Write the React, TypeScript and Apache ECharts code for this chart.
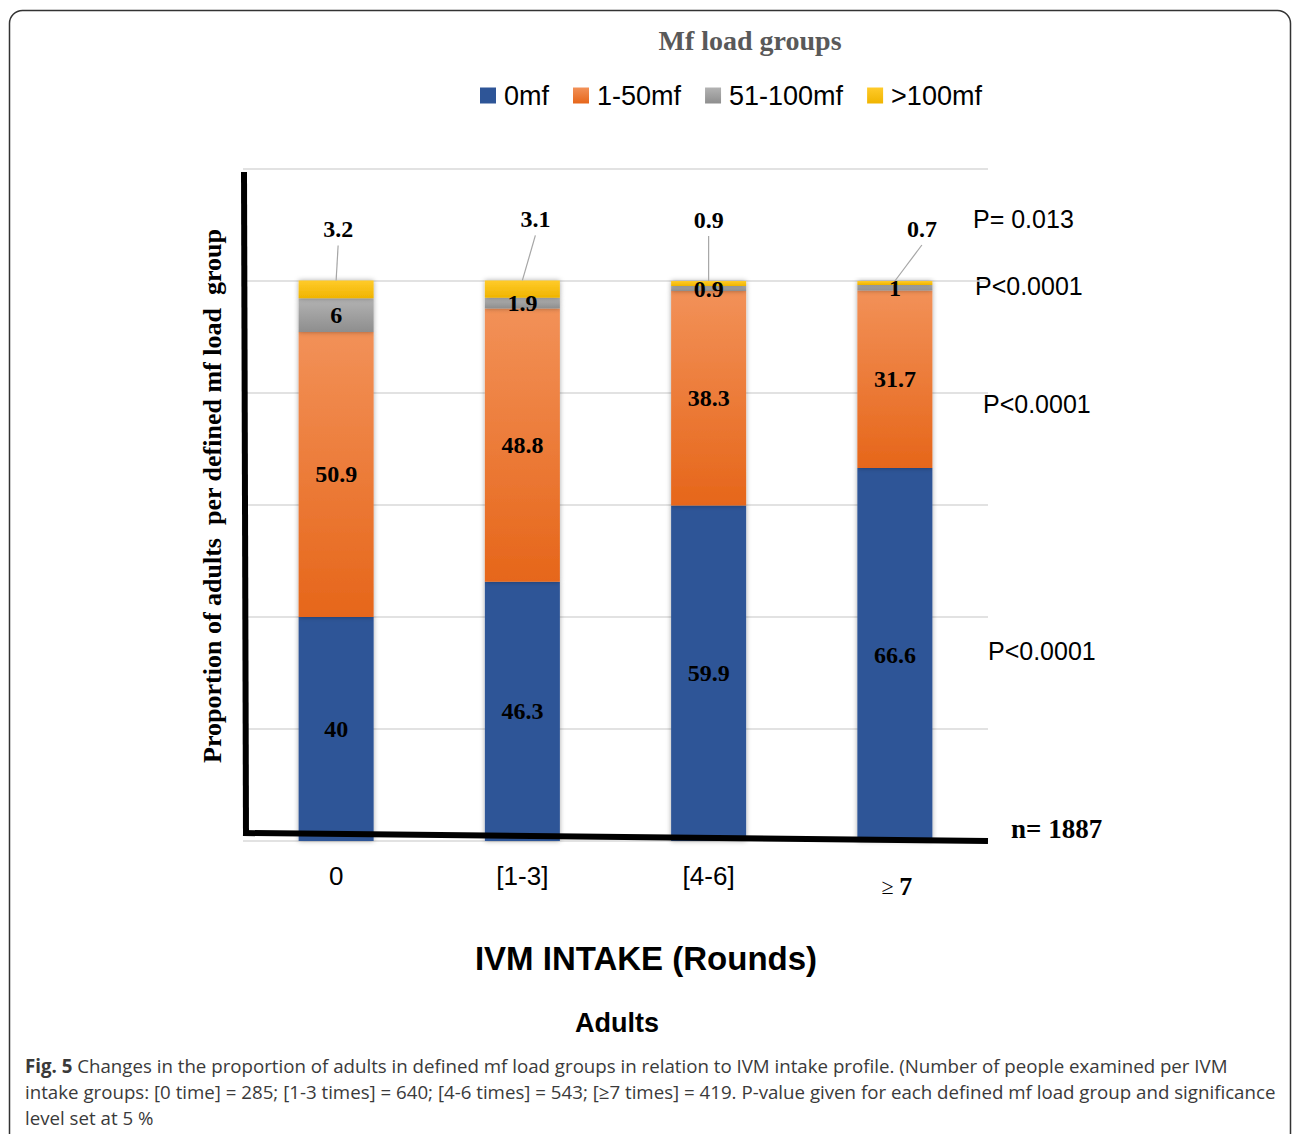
import React, { useEffect, useRef } from 'react';
import * as echarts from 'echarts';

// ---------- data ----------
const categories = ['0', '[1-3]', '[4-6]', '≥ 7'];
const seriesNames = ['0mf', '1-50mf', '51-100mf', '>100mf'];
const mf0 = [40, 46.3, 59.9, 66.6];
const mf1to50 = [50.9, 48.8, 38.3, 31.7];
const mf51to100 = [6, 1.9, 0.9, 1];
const mfOver100 = [3.2, 3.1, 0.9, 0.7];
const yMin = 0;
const yMax = 120;
const yInterval = 20;
const pValueLabels = ['P= 0.013', 'P<0.0001', 'P<0.0001', 'P<0.0001'];
const totalLabel = 'n= 1887';
const titleText = 'Mf load groups';
const yAxisTitle = 'Proportion of adults  per defined mf load  group';
const xAxisTitle = 'IVM INTAKE (Rounds)';
const subTitle = 'Adults';
const captionLines = [
  ['Fig. 5', ' Changes in the proportion of adults in defined mf load groups in relation to IVM intake profile. (Number of people examined per IVM'],
  ['', 'intake groups: [0 time] = 285; [1-3 times] = 640; [4-6 times] = 543; [≥7 times] = 419. P-value given for each defined mf load group and significance'],
  ['', 'level set at 5 %'],
];

// ---------- styles ----------
// label centre offset from the top of each stacked bar (px)
const topLabelOffsets = [
  [2, -51],
  [13, -61],
  [0, -61],
  [27, -52],
];
const pPositions = [
  [973, 219],
  [975, 286],
  [983, 404],
  [988, 651],
];

const SERIF = '"Liberation Serif", "Times New Roman", serif';
const SANS = '"Liberation Sans", Arial, sans-serif';
const CAP = '"Open Sans", sans-serif';

const grad = (a: string, b: string) =>
  new echarts.graphic.LinearGradient(0, 0, 0, 1, [
    { offset: 0, color: a },
    { offset: 1, color: b },
  ]);

export default function App() {
  const ref = useRef<HTMLDivElement>(null);

  useEffect(() => {
    document.body.style.margin = '0';
    const chart = echarts.init(ref.current!, null, { renderer: 'svg' });

    const barLabel = {
      show: true,
      position: 'inside' as const,
      color: '#000',
      fontFamily: SERIF,
      fontWeight: 'bold' as const,
      fontSize: 24,
    };
    const shadow = { shadowBlur: 5, shadowColor: 'rgba(0,0,0,0.35)' };

    const baseGraphic: any[] = [
      {
        type: 'rect',
        z: -10,
        shape: { x: 9.5, y: 10.5, width: 1281, height: 1140, r: 13 },
        style: { fill: 'none', stroke: '#333', lineWidth: 1.5 },
        silent: true,
      },
      {
        type: 'line',
        z: 100,
        shape: { x1: 244, y1: 172, x2: 246, y2: 836 },
        style: { stroke: '#000', lineWidth: 6 },
      },
      {
        type: 'line',
        z: 100,
        shape: { x1: 243, y1: 833, x2: 988, y2: 841 },
        style: { stroke: '#000', lineWidth: 6 },
      },
      ...pValueLabels.map((t, i) => ({
        type: 'text',
        x: pPositions[i][0],
        y: pPositions[i][1],
        style: { text: t, fontFamily: SANS, fontSize: 25, fill: '#000', verticalAlign: 'middle' },
      })),
      {
        type: 'text',
        x: 1011,
        y: 829,
        style: { text: totalLabel, fontFamily: SERIF, fontWeight: 'bold', fontSize: 27, fill: '#000', verticalAlign: 'middle' },
      },
      {
        type: 'text',
        x: 212,
        y: 496,
        rotation: Math.PI / 2,
        style: { text: yAxisTitle, fontFamily: SERIF, fontWeight: 'bold', fontSize: 26, fill: '#000', align: 'center', verticalAlign: 'middle' },
      },
      {
        type: 'text',
        x: 646,
        y: 958,
        style: { text: xAxisTitle, fontFamily: SANS, fontWeight: 'bold', fontSize: 33, fill: '#000', align: 'center', verticalAlign: 'middle' },
      },
      {
        type: 'text',
        x: 617,
        y: 1023,
        style: { text: subTitle, fontFamily: SANS, fontWeight: 'bold', fontSize: 27, fill: '#000', align: 'center', verticalAlign: 'middle' },
      },
      ...captionLines.map((l, i) => ({
        type: 'text',
        x: 25,
        y: 1065 + i * 26,
        style: {
          text: (l[0] ? '{b|' + l[0] + '}' : '') + '{r|' + l[1] + '}',
          verticalAlign: 'middle',
          rich: {
            b: { fontFamily: CAP, fontWeight: 'bold', fontSize: 18.7, fill: '#3a3a3a' },
            r: { fontFamily: CAP, fontSize: 18.7, fill: '#3a3a3a' },
          },
        },
      })),
    ];

    const option: any = {
      animation: false,
      backgroundColor: '#fff',
      title: {
        text: titleText,
        left: 745,
        textAlign: 'center',
        top: 21,
        textStyle: { fontFamily: SERIF, fontWeight: 'bold', fontSize: 28, color: '#595959' },
      },
      legend: {
        data: seriesNames,
        left: 475,
        top: 77,
        icon: 'rect',
        itemWidth: 16,
        itemHeight: 16,
        itemGap: 24,
        textStyle: { fontFamily: SANS, fontSize: 27, color: '#000', padding: [0, 0, 0, 3] },
      },
      grid: { left: 243, right: 304, top: 169, bottom: 293, containLabel: false },
      xAxis: {
        type: 'category',
        data: categories,
        axisLine: { show: false },
        axisTick: { show: false },
        axisLabel: {
          interval: 0,
          margin: 22,
          fontFamily: SANS,
          fontSize: 26,
          color: '#000',
          formatter: (v: string) => (v.startsWith('≥') ? '{ge|≥ }{sev|' + v.replace('≥', '').trim() + '}' : v),
          rich: {
            ge: { fontFamily: SERIF, fontSize: 22, color: '#000', padding: [10, 0, 0, 4] },
            sev: { fontFamily: SERIF, fontSize: 26, fontWeight: 'bold', color: '#000', padding: [10, 0, 0, 0] },
          },
        },
      },
      yAxis: {
        type: 'value',
        min: yMin,
        max: yMax,
        interval: yInterval,
        axisLabel: { show: false },
        axisLine: { show: false },
        axisTick: { show: false },
        splitLine: { lineStyle: { color: '#d9d9d9', width: 1.5 } },
      },
      series: [
        {
          name: seriesNames[0],
          type: 'bar',
          stack: 'all',
          barWidth: 75,
          data: mf0,
          itemStyle: { color: '#2E5597', ...shadow },
          label: barLabel,
        },
        {
          name: seriesNames[1],
          type: 'bar',
          stack: 'all',
          data: mf1to50,
          itemStyle: { color: grad('#F29158', '#E6661A'), ...shadow },
          label: barLabel,
        },
        {
          name: seriesNames[2],
          type: 'bar',
          stack: 'all',
          data: mf51to100,
          itemStyle: { color: grad('#B3B3B3', '#8E8E8E'), ...shadow },
          label: barLabel,
        },
        {
          name: seriesNames[3],
          type: 'bar',
          stack: 'all',
          data: mfOver100,
          itemStyle: { color: grad('#FFCB2A', '#F0B400'), ...shadow },
          label: { ...barLabel, position: 'top', distance: 5 },
          labelLayout: (p: any) => {
            const o = topLabelOffsets[p.dataIndex] || [0, 0];
            const r = p.rect;
            return { x: r.x + r.width / 2 + o[0], y: r.y + o[1], align: 'center', verticalAlign: 'middle' };
          },
        },
      ],
      graphic: baseGraphic,
    };

    chart.setOption(option);

    // leader lines from bar tops to the moved labels, positioned through the chart's scales
    const leaders = categories.map((_, i) => {
      const total = mf0[i] + mf1to50[i] + mf51to100[i] + mfOver100[i];
      const pt = chart.convertToPixel({ seriesIndex: 3 }, [i, total]) as number[];
      const o = topLabelOffsets[i];
      return {
        type: 'line',
        z: 50,
        shape: { x1: pt[0], y1: pt[1], x2: pt[0] + o[0], y2: pt[1] + o[1] + 16 },
        style: { stroke: '#a6a6a6', lineWidth: 1.2 },
      };
    });
    chart.setOption({ graphic: [...baseGraphic, ...leaders] });

    return () => chart.dispose();
  }, []);

  return <div ref={ref} style={{ width: 1292, height: 1134 }} />;
}
